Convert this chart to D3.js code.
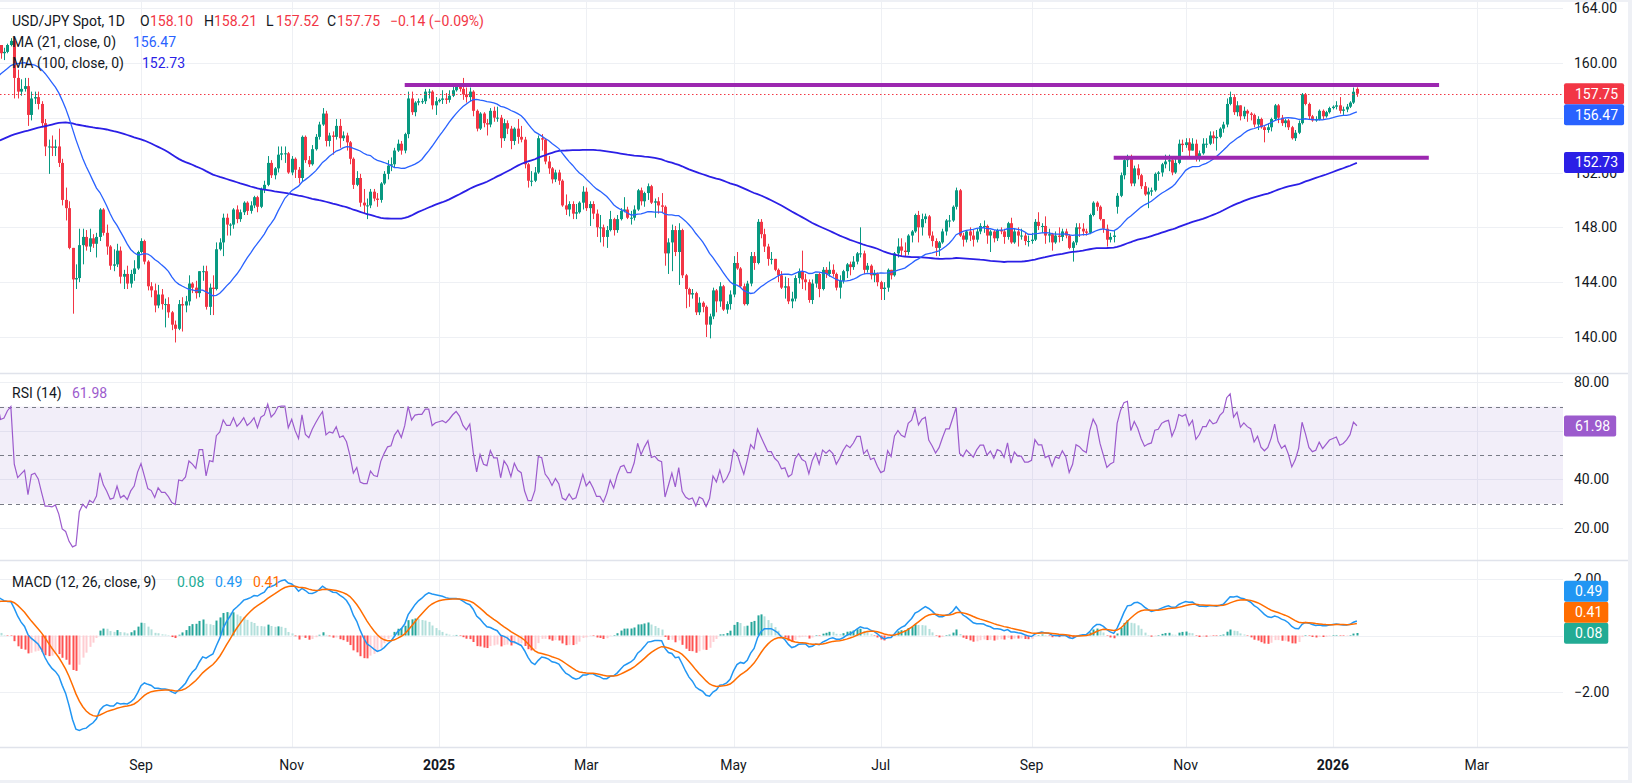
<!DOCTYPE html>
<html>
<head>
<meta charset="utf-8">
<script src="https://cdnjs.cloudflare.com/ajax/libs/d3/7.8.5/d3.min.js"></script>
<style>
  body { margin: 0; background: #eef0f5; }
  svg { display: block; }
  text { font-family: Roboto, "Noto Sans", sans-serif; font-size: 14px; fill: #131722; }
</style>
</head>
<body>
<svg id="chart" width="1632" height="783"></svg>
<script>
// ---- data (USD/JPY daily) ----

// closes before the first visible bar (Feb 13 - Jul 2 2024), only used to warm up MA/RSI/MACD
const preCloses = [
  150.7,150.6,149.9,150.2, 150.0,150.0,150.3,150.5,150.5, 150.7,150.5,150.7,150.0,150.1,
  150.5,150.0,149.4,148.0,147.1, 146.9,147.7,147.8,148.3,149.1, 149.2,150.9,151.3,151.6,151.4,
  151.4,151.5,151.3,151.3,151.3, 151.7,151.6,151.6,151.3,151.6, 151.9,151.8,153.2,153.3,153.3,
  154.3,154.7,154.4,154.6,154.6, 154.8,154.8,155.3,155.6,158.3, 156.3,157.8,155.4,153.0,153.0,
  153.9,154.7,155.5,155.5,155.8, 156.2,156.4,154.9,155.4,155.7, 156.2,156.2,156.8,157.0,157.0,
  156.9,157.2,157.6,156.8,157.3, 156.1,154.8,156.1,155.6,156.8, 157.0,157.1,156.7,157.0,157.4,
  157.7,157.9,158.1,158.9,159.8, 159.7,159.7,160.8,160.8,160.9, 161.5,161.5
];

// visible bars, one row per month, Jul 3 2024 .. Jan 12 2026 (weekdays)
const closes = [
  161.7,161.3,160.7,160.8,161.3,161.6,158.9,157.9,158.1,158.3,156.2,157.4,157.5,157.0,155.6,153.9,153.9,153.8,153.9,152.7,150.0,
  149.4,146.5,144.2,144.3,146.7,147.3,146.6,147.2,146.8,147.3,149.3,147.6,146.6,145.2,145.3,146.3,144.4,144.6,143.9,144.6,145.0,146.2,
  147.0,145.5,143.7,143.4,142.3,143.1,142.4,142.4,141.8,140.9,140.6,142.4,142.3,142.6,143.9,143.6,143.2,144.8,144.8,142.2,143.6,
  143.5,146.4,146.9,148.7,148.2,148.2,149.3,148.6,149.1,149.8,149.2,149.6,150.2,149.5,150.8,151.1,152.7,151.8,152.3,153.3,153.4,153.4,152.0,
  153.0,152.2,151.6,154.6,152.9,152.6,153.7,154.6,155.5,156.3,154.3,154.7,154.6,155.4,154.5,154.7,154.2,153.0,151.1,151.6,149.8,
  149.6,149.6,150.6,150.1,150.0,151.2,151.9,152.5,152.6,153.6,154.1,153.6,154.8,157.4,156.4,157.1,157.2,157.2,157.9,157.9,156.9,157.2,
  157.3,157.4,157.3,157.6,158.0,158.3,158.1,157.7,157.5,157.9,156.5,155.2,156.3,155.6,155.5,156.5,156.0,156.0,154.5,155.6,155.2,154.3,155.2,
  154.6,154.4,152.6,151.4,151.4,152.0,154.5,154.4,152.8,152.3,151.5,152.0,151.4,149.6,149.3,149.7,149.0,149.1,149.8,150.6,
  149.4,149.7,149.0,148.0,148.0,147.3,147.8,148.6,147.8,148.6,149.2,149.3,148.7,148.7,149.3,150.7,149.9,150.5,151.0,149.8,149.9,
  149.6,149.5,146.1,146.9,147.8,146.2,147.8,144.5,143.5,143.1,143.2,141.8,142.5,142.2,140.9,141.5,143.4,142.6,143.7,142.0,142.4,143.1,
  145.4,145.0,143.7,142.4,143.9,145.9,145.4,148.4,147.5,146.6,145.7,145.7,144.9,144.5,143.6,143.7,142.6,142.8,144.3,144.8,144.2,144.0,
  142.7,143.9,144.6,143.5,144.9,144.6,144.9,144.6,143.6,144.1,144.8,145.3,145.1,145.5,146.1,146.1,144.9,145.2,144.5,144.6,144.0,
  143.5,143.6,144.9,144.5,146.1,146.6,146.3,146.2,147.4,147.7,148.9,148.0,148.6,148.8,147.4,147.0,146.5,146.9,147.7,148.5,148.5,149.5,150.7,
  147.4,147.1,147.7,147.4,147.1,147.7,148.1,148.1,147.4,147.7,147.2,147.8,147.7,147.3,148.3,146.9,147.7,147.4,147.4,147.0,147.0,
  147.1,148.4,148.1,148.1,147.4,147.5,146.9,147.4,147.3,147.7,147.4,146.5,146.9,148.0,147.9,147.7,147.6,148.9,149.8,149.5,148.6,147.9,
  147.1,147.3,147.4,150.3,151.8,152.9,153.1,151.2,152.3,151.8,151.0,150.4,150.6,150.7,151.9,152.0,152.6,152.8,152.9,152.0,152.7,154.1,154.0,
  154.2,153.6,154.1,153.0,153.4,154.1,154.1,154.7,154.5,154.6,155.2,155.5,157.0,157.5,156.4,156.9,156.1,156.5,156.3,156.2,
  155.5,155.9,155.3,155.1,155.3,155.9,156.9,156.0,155.6,155.8,155.3,154.5,154.9,155.6,157.7,157.0,156.1,155.8,155.9,156.5,156.1,156.4,156.7,
  156.8,156.9,156.5,156.6,156.8,157.1,157.89,157.75
];

const highs = [
  161.9,161.8,161.3,161.1,161.4,161.8,161.8,159.5,158.8,158.9,158.9,157.9,157.9,157.9,157.2,155.9,154.4,154.7,154.4,155.2,153.0,
  150.9,149.9,146.5,145.3,147.9,147.9,147.8,147.9,147.5,147.6,149.4,149.4,148.2,146.7,146.4,146.8,146.6,144.9,145.2,144.9,145.6,146.3,
  147.2,147.1,145.6,144.0,143.9,143.8,143.5,142.8,142.9,141.9,141.2,142.7,142.9,143.0,144.5,144.0,144.1,144.8,145.2,145.2,143.9,
  144.5,146.9,147.2,149.0,149.0,148.3,149.4,149.6,149.3,149.9,149.9,149.9,150.3,150.3,150.9,151.4,153.2,152.9,152.4,153.9,153.9,153.9,153.5,
  153.2,153.1,152.4,154.7,154.7,153.2,154.0,154.8,155.7,156.7,156.5,154.9,155.0,155.9,155.9,155.0,154.9,154.3,153.1,152.1,151.9,
  150.8,150.1,150.8,150.8,150.5,151.3,152.1,152.9,153.1,153.8,154.4,154.3,154.9,157.9,157.9,157.2,157.4,157.4,158.1,158.1,158.0,157.5,
  157.4,158.0,157.8,158.0,158.4,158.5,158.4,158.9,158.2,158.2,158.0,156.6,156.4,156.4,155.9,156.7,156.8,156.8,156.2,155.9,155.8,155.4,155.3,
  155.9,155.4,154.6,152.7,152.1,152.4,154.7,154.8,154.5,153.2,152.4,152.2,152.2,151.5,150.4,149.9,149.9,149.7,149.9,151.0,
  150.9,149.9,149.9,149.3,148.9,148.2,148.1,149.2,148.7,148.9,149.4,150.2,149.5,149.2,149.6,150.8,150.9,150.6,151.2,151.1,150.1,
  150.2,150.5,149.6,147.2,148.2,148.1,148.3,147.9,144.6,143.6,143.5,143.3,142.9,142.6,142.3,141.7,143.6,143.5,144.0,143.8,142.6,143.4,
  145.9,146.2,145.1,143.9,144.1,146.2,146.2,148.6,148.6,147.9,146.8,146.2,145.7,145.0,144.8,144.4,144.3,143.3,144.5,145.0,146.3,144.6,
  144.2,144.2,144.6,144.7,145.1,145.1,145.5,145.3,144.7,144.5,144.9,145.4,145.5,145.9,146.2,148.0,146.3,145.4,145.3,144.9,144.7,
  144.1,144.0,145.0,144.9,146.2,147.2,147.2,146.9,147.5,147.8,149.0,149.2,149.0,149.0,148.9,147.7,147.2,147.0,147.9,148.6,148.9,149.6,150.9,
  150.8,147.6,147.8,148.0,147.8,147.9,148.3,148.5,148.2,147.8,147.8,147.9,148.0,147.9,148.4,148.7,147.9,148.0,147.9,147.6,147.4,
  147.6,148.6,149.1,148.3,148.8,147.9,147.6,147.7,148.0,147.9,147.9,147.5,147.0,148.3,148.3,148.3,147.9,149.0,149.9,149.9,149.6,148.6,
  148.2,147.6,147.8,150.5,152.0,153.0,153.3,153.3,152.5,152.6,151.9,151.3,150.9,150.9,152.0,152.1,152.7,153.3,153.3,153.1,153.0,154.4,154.4,
  154.5,154.5,154.5,154.4,153.6,154.5,154.5,155.0,155.0,155.1,155.3,155.7,157.4,157.9,157.7,157.2,156.9,156.8,156.6,156.4,
  156.3,156.1,156.0,155.4,155.6,156.0,157.0,157.0,156.2,155.9,155.9,155.4,155.1,155.8,157.8,157.8,157.1,156.2,156.1,156.6,156.6,156.5,156.8,
  156.9,157.2,157.5,156.8,157.0,157.2,158.2,158.21
];

const lows = [
  161.3,161.1,160.3,160.2,160.7,161.2,157.4,157.4,157.6,157.9,155.4,155.8,157.0,156.6,155.3,153.2,151.9,153.2,153.2,152.4,149.6,
  148.5,146.4,141.7,143.5,144.0,145.3,146.3,146.2,146.5,145.8,147.0,147.4,146.0,144.9,144.8,145.1,143.9,143.5,143.5,143.6,144.1,144.9,
  146.1,145.3,143.4,142.9,141.8,142.1,142.0,140.7,141.4,140.5,139.6,140.5,140.4,141.8,142.3,143.2,142.8,142.9,144.1,142.0,141.6,
  141.6,143.4,146.3,145.9,147.4,147.4,147.9,148.3,148.4,148.9,148.9,149.0,149.4,149.1,149.4,150.5,151.0,151.6,151.5,152.0,152.9,152.7,151.9,
  151.8,151.6,151.2,151.3,152.7,152.4,152.5,153.6,154.4,155.4,153.9,153.9,153.3,154.4,153.8,154.3,153.6,152.6,150.8,151.0,149.5,
  149.0,148.6,149.4,149.9,149.5,149.8,151.1,151.5,152.1,152.4,153.5,153.3,153.4,154.5,156.2,156.1,156.9,157.0,157.0,157.4,156.6,156.2,
  157.1,157.0,157.0,157.1,157.5,157.9,157.9,157.3,157.1,157.2,156.1,155.0,155.1,155.3,154.7,155.3,155.7,155.7,153.8,154.3,154.8,153.7,154.0,
  154.1,154.2,152.3,150.9,151.0,151.3,151.9,153.6,152.6,151.9,151.2,151.3,151.1,149.5,148.9,148.8,148.6,148.6,149.0,149.3,
  149.2,148.1,148.6,147.3,146.9,146.6,146.5,147.7,147.4,147.6,148.5,149.1,148.6,148.2,148.5,149.2,149.6,149.5,150.0,149.7,148.7,
  149.0,149.1,145.2,144.6,144.8,145.9,143.8,144.3,142.1,142.2,142.8,141.6,141.6,141.8,140.0,139.9,141.3,141.8,142.2,141.9,141.7,142.0,
  142.9,144.9,143.6,142.3,142.3,143.7,144.9,145.3,147.2,146.2,145.2,145.3,144.8,144.0,143.5,142.8,142.4,142.1,142.6,143.9,143.5,143.4,
  142.5,142.4,143.6,142.9,143.4,144.3,144.4,144.4,143.4,142.8,143.9,144.3,144.5,144.9,145.3,145.8,144.6,144.7,144.2,144.0,143.7,
  142.7,142.7,143.3,144.2,144.4,145.8,145.9,145.9,146.0,146.9,147.6,146.9,147.4,148.3,147.2,146.6,145.9,145.9,146.8,147.4,148.0,148.4,149.3,
  147.3,146.6,146.9,147.0,146.6,146.9,147.5,147.6,146.8,146.2,146.9,147.0,147.5,146.8,147.1,146.8,146.8,146.6,147.1,146.7,146.6,
  146.8,147.0,147.8,147.6,146.8,146.9,146.3,146.8,146.9,147.0,147.2,146.4,145.5,146.7,147.3,147.4,147.4,147.5,148.8,149.2,148.5,147.6,
  146.6,146.9,146.9,149.0,150.2,151.5,152.4,151.0,151.0,151.5,150.8,150.3,149.4,150.3,150.6,151.4,151.7,152.3,152.1,151.8,151.9,152.6,153.5,
  153.8,153.2,153.6,152.8,152.8,153.3,153.8,154.0,154.1,153.6,154.5,154.9,155.3,156.9,156.2,156.1,155.8,155.9,155.7,155.8,
  155.3,155.1,155.2,154.2,154.9,155.0,155.8,155.6,155.4,155.3,155.1,154.4,154.3,154.8,155.5,156.9,155.9,155.7,155.7,155.8,155.9,156.0,156.3,
  156.6,156.6,156.3,156.2,156.4,156.7,157.0,157.52
];

// bars whose open is not the previous close (weekend gaps)
const gapOpens = [["2025-10-06", 149.5], ["2026-01-12", 158.10]];

const priceTicks = [140, 144, 148, 152, 156, 160, 164];
const rsiTicks = [20, 40, 60, 80];
const macdTicks = [-2, 0, 2];
// tick labels that sit fully under an axis badge in the reference
const hiddenTicks = [156, 60, 0];
const tickDates  = ["2024-09-02","2024-11-01","2025-01-01","2025-03-03","2025-05-01","2025-07-01","2025-09-01","2025-11-03","2026-01-01","2026-03-02"];
const tickLabels = ["Sep","Nov","2025","Mar","May","Jul","Sep","Nov","2026","Mar"];

// drawn horizontal levels (purple)
const levels = [
  { price: 158.38, from: "2024-12-18", to: "2026-02-13" },
  { price: 153.08, from: "2025-10-03", to: "2026-02-10" }
];

// values shown in the legends / axis badges
const maReadout = [156.47, 152.73];
const rsiReadout = 61.98;
const macdReadout = [0.08, 0.49, 0.41]; // hist, macd, signal

// ---- colours ----
const UP = "#089981", DOWN = "#F23645";
const MA21C = "#2962FF", MA100C = "#2B1FE6";
const RSIC = "#9C5BCD";
const MACDC = "#2196F3", SIGC = "#FF6D00";
const GRID = "#eef0f4", SEP = "#E0E3EB";

// ---- calendar (weekdays) ----
const calendar = [];
for (let d = new Date(Date.UTC(2024, 6, 3)); calendar.length < 460; d.setUTCDate(d.getUTCDate() + 1)) {
  const wd = d.getUTCDay();
  if (wd !== 0 && wd !== 6) calendar.push(d.toISOString().slice(0, 10));
}
const dateIndex = new Map(calendar.map((s, i) => [s, i]));

// ---- bars ----
const P = preCloses.length;
const allCloses = preCloses.concat(closes);
const gapMap = new Map(gapOpens.map(g => [dateIndex.get(g[0]), g[1]]));
const bars = closes.map((c, i) => {
  const o = gapMap.has(i) ? gapMap.get(i) : allCloses[P + i - 1];
  return { i, o, c, h: Math.max(highs[i], o, c), l: Math.min(lows[i], o, c) };
});

// ---- indicators ----
function sma(src, n) {
  return src.map((v, i) => i < n - 1 ? null : d3.sum(src.slice(i - n + 1, i + 1)) / n);
}
function ema(src, n) {
  const k = 2 / (n + 1), out = [];
  src.forEach((v, i) => out.push(i === 0 ? v : v * k + out[i - 1] * (1 - k)));
  return out;
}
function rsiCalc(src, n) {
  const out = [null];
  let ag = 0, al = 0;
  for (let i = 1; i < src.length; i++) {
    const ch = src[i] - src[i - 1];
    const g = Math.max(ch, 0), l = Math.max(-ch, 0);
    if (i <= n) {
      ag += g / n; al += l / n;
      out.push(i === n ? 100 - 100 / (1 + ag / al) : null);
    } else {
      ag = (ag * (n - 1) + g) / n;
      al = (al * (n - 1) + l) / n;
      out.push(al === 0 ? 100 : 100 - 100 / (1 + ag / al));
    }
  }
  return out;
}
const ma21 = sma(allCloses, 21).slice(P);
const ma100 = sma(allCloses, 100).slice(P);
const rsi = rsiCalc(allCloses, 14).slice(P);
const e12 = ema(allCloses, 12), e26 = ema(allCloses, 26);
const macdAll = e12.map((v, i) => v - e26[i]);
const sigAll = ema(macdAll, 9);
const macd = macdAll.slice(P), signal = sigAll.slice(P);
const hist = macd.map((v, i) => v - signal[i]);
const histPrev = macdAll.map((v, i) => v - sigAll[i]).slice(P - 1);

// ---- layout ----
const svg = d3.select("#chart");
const plotW = 1563;
const panes = { price: [0, 373], rsi: [373, 560], macd: [560, 747] };
const x = d3.scaleLinear().domain([0, 433]).range([-6.275, 1476.75]);
const yP = d3.scaleLinear().domain([140, 164]).range([337, 8]);
const yR = d3.scaleLinear().domain([20, 80]).range([528, 382.3]);
const yM = d3.scaleLinear().domain([-2, 2]).range([692, 579]);

svg.append("rect").attr("x", 0).attr("y", 2).attr("width", 1628).attr("height", 778).attr("fill", "#fff");

const defs = svg.append("defs");
Object.entries(panes).forEach(([k, [t, b]]) => {
  defs.append("clipPath").attr("id", "clip-" + k)
    .append("rect").attr("x", 0).attr("y", t).attr("width", plotW).attr("height", b - t);
});

// grid
const grid = svg.append("g");
tickDates.forEach(d => {
  const xx = Math.round(x(dateIndex.get(d))) + 0.5;
  grid.append("line").attr("x1", xx).attr("x2", xx).attr("y1", 2).attr("y2", 747)
    .attr("stroke", GRID).attr("stroke-width", 1);
});
function hGrid(ticks, scale) {
  ticks.forEach(t => {
    const yy = Math.round(scale(t)) + 0.5;
    grid.append("line").attr("x1", 0).attr("x2", plotW).attr("y1", yy).attr("y2", yy)
      .attr("stroke", GRID).attr("stroke-width", 1);
  });
}
hGrid(priceTicks, yP); hGrid(rsiTicks, yR); hGrid(macdTicks, yM);

// pane separators
[373.5, 560.5, 747.5].forEach(yy => {
  svg.append("line").attr("x1", 0).attr("x2", 1628).attr("y1", yy).attr("y2", yy)
    .attr("stroke", SEP).attr("stroke-width", 1.5);
});

// ---- price pane ----
const gp = svg.append("g").attr("clip-path", "url(#clip-price)");
const candle = gp.selectAll("g.c").data(bars).enter().append("g");
candle.append("line")
  .attr("x1", d => Math.round(x(d.i)) + 0.5).attr("x2", d => Math.round(x(d.i)) + 0.5)
  .attr("y1", d => yP(d.h)).attr("y2", d => yP(d.l))
  .attr("stroke", d => d.c >= d.o ? UP : DOWN).attr("stroke-width", 1);
candle.append("rect")
  .attr("x", d => Math.round(x(d.i)) - 1).attr("width", 3)
  .attr("y", d => yP(Math.max(d.o, d.c)))
  .attr("height", d => Math.max(1, Math.abs(yP(d.o) - yP(d.c))))
  .attr("fill", d => d.c >= d.o ? UP : DOWN);

const maLine = (arr) => d3.line().defined((d, i) => arr[i] != null)
  .x((d, i) => x(i)).y((d, i) => yP(arr[i]));
gp.append("path").datum(bars).attr("d", maLine(ma100)).attr("fill", "none")
  .attr("stroke", MA100C).attr("stroke-width", 1.8);
gp.append("path").datum(bars).attr("d", maLine(ma21)).attr("fill", "none")
  .attr("stroke", MA21C).attr("stroke-width", 1.3);

const last = bars[bars.length - 1];
gp.append("line").attr("x1", 0).attr("x2", plotW)
  .attr("y1", Math.round(yP(last.c)) + 0.5).attr("y2", Math.round(yP(last.c)) + 0.5)
  .attr("stroke", DOWN).attr("stroke-width", 1).attr("stroke-dasharray", "1.5 2.5");

levels.forEach(lv => {
  gp.append("line")
    .attr("x1", x(dateIndex.get(lv.from))).attr("x2", x(dateIndex.get(lv.to)))
    .attr("y1", yP(lv.price)).attr("y2", yP(lv.price))
    .attr("stroke", "#9C27B0").attr("stroke-width", 4);
});

// ---- RSI pane ----
const gr = svg.append("g").attr("clip-path", "url(#clip-rsi)");
gr.append("rect").attr("x", 0).attr("width", plotW)
  .attr("y", yR(70)).attr("height", yR(30) - yR(70))
  .attr("fill", "#7E57C2").attr("fill-opacity", 0.1);
[70, 50, 30].forEach(v => {
  gr.append("line").attr("x1", 0).attr("x2", plotW)
    .attr("y1", Math.round(yR(v)) + 0.5).attr("y2", Math.round(yR(v)) + 0.5)
    .attr("stroke", "#787B86").attr("stroke-width", 1).attr("stroke-dasharray", "4 4");
});
gr.append("path").datum(bars)
  .attr("d", d3.line().defined((d, i) => rsi[i] != null).x((d, i) => x(i)).y((d, i) => yR(rsi[i])))
  .attr("fill", "none").attr("stroke", RSIC).attr("stroke-width", 1.2);

// ---- MACD pane ----
const gm = svg.append("g").attr("clip-path", "url(#clip-macd)");
function histColor(i) {
  const h = hist[i], p = histPrev[i];
  if (h >= 0) return p < h ? "#26A69A" : "#B2DFDB";
  return p < h ? "#FFCDD2" : "#FF5252";
}
gm.selectAll("rect.h").data(bars).enter().append("rect")
  .attr("x", d => Math.round(x(d.i)) - 0.5).attr("width", 2)
  .attr("y", d => Math.min(yM(0), yM(hist[d.i])))
  .attr("height", d => Math.max(0.5, Math.abs(yM(hist[d.i]) - yM(0))))
  .attr("fill", d => histColor(d.i));
gm.append("path").datum(bars)
  .attr("d", d3.line().x((d, i) => x(i)).y((d, i) => yM(macd[i])))
  .attr("fill", "none").attr("stroke", MACDC).attr("stroke-width", 1.5);
gm.append("path").datum(bars)
  .attr("d", d3.line().x((d, i) => x(i)).y((d, i) => yM(signal[i])))
  .attr("fill", "none").attr("stroke", SIGC).attr("stroke-width", 1.5);

// ---- axes ----
const ax = svg.append("g");
const f2 = d3.format(".2f");
const fmt = v => f2(v).replace("-", "\u2212");
function axisLabels(ticks, scale) {
  ticks.filter(t => !hiddenTicks.includes(t)).forEach(t => {
    ax.append("text").attr("x", 1574).attr("y", scale(t) + 5).text(fmt(t));
  });
}
axisLabels(priceTicks, yP); axisLabels(rsiTicks, yR); axisLabels(macdTicks, yM);

tickDates.forEach((d, k) => {
  ax.append("text").attr("x", x(dateIndex.get(d))).attr("y", 770)
    .attr("text-anchor", "middle")
    .attr("font-weight", /^\d{4}$/.test(tickLabels[k]) ? "bold" : null)
    .text(tickLabels[k]);
});

// axis badges
function badges(items, scale, dir) {
  const hgt = 21;
  items.forEach(it => { it.top = scale(it.v) - hgt / 2; });
  if (dir === "down") {
    items.sort((a, b) => a.top - b.top);
    for (let k = 1; k < items.length; k++) items[k].top = Math.max(items[k].top, items[k - 1].top + hgt);
  } else {
    items.sort((a, b) => b.top - a.top);
    for (let k = 1; k < items.length; k++) items[k].top = Math.min(items[k].top, items[k - 1].top - hgt);
  }
  items.forEach(it => {
    const g = ax.append("g");
    const r = g.append("rect").attr("x", 1564).attr("y", it.top).attr("height", hgt)
      .attr("rx", 2).attr("fill", it.color);
    const t = g.append("text").attr("x", 1575).attr("y", it.top + 15.5)
      .style("fill", "#fff").text(f2(it.v));
    r.attr("width", t.node().getComputedTextLength() + 17);
  });
}
badges([{ v: last.c, color: DOWN }, { v: maReadout[0], color: MA21C }], yP, "down");
badges([{ v: maReadout[1], color: MA100C }], yP, "down");
badges([{ v: rsiReadout, color: RSIC }], yR, "down");
badges([{ v: macdReadout[0], color: "#22AB94" }, { v: macdReadout[2], color: SIGC }, { v: macdReadout[1], color: MACDC }], yM, "up");

// ---- legends ----
const lg = svg.append("g");
function txt(xx, yy, s, color) {
  lg.append("text").attr("x", xx).attr("y", yy).style("fill", color || "#131722").text(s);
}
const prevClose = allCloses[allCloses.length - 2];
const chg = last.c - prevClose;
txt(12, 26, "USD/JPY Spot, 1D");
txt(140, 26, "O"); txt(150, 26, f2(last.o), DOWN);
txt(204, 26, "H"); txt(214, 26, f2(last.h), DOWN);
txt(266, 26, "L"); txt(276, 26, f2(last.l), DOWN);
txt(327, 26, "C"); txt(337, 26, f2(last.c), DOWN);
txt(390, 26, fmt(chg) + " (" + fmt(chg / prevClose * 100) + "%)", DOWN);
txt(12, 47, "MA (21, close, 0)"); txt(133, 47, f2(maReadout[0]), MA21C);
txt(12, 68, "MA (100, close, 0)"); txt(142, 68, f2(maReadout[1]), MA100C);
txt(12, 398, "RSI (14)"); txt(72, 398, f2(rsiReadout), RSIC);
txt(12, 587, "MACD (12, 26, close, 9)");
txt(177, 587, f2(macdReadout[0]), "#22AB94");
txt(215, 587, f2(macdReadout[1]), MACDC);
txt(253, 587, f2(macdReadout[2]), SIGC);
</script>
</body>
</html>
